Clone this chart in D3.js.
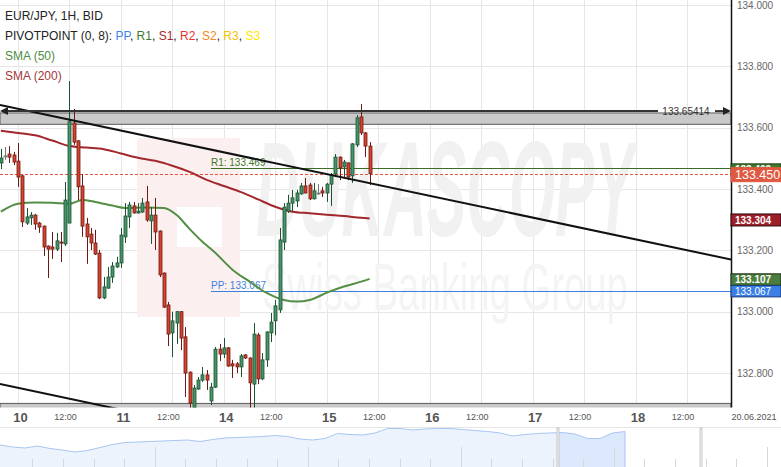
<!DOCTYPE html>
<html><head><meta charset="utf-8">
<script src="https://cdn.jsdelivr.net/npm/d3@7"></script>
<style>
body{margin:0;background:#fff;}
svg{display:block;font-family:"Liberation Sans",Arial,sans-serif;}
</style>
</head><body>
<svg id="c" width="781" height="467"></svg>
<script>
// ---------- DATA ----------
const title = "EUR/JPY, 1H, BID";
const pivotNames = ["PP","R1","S1","R2","S2","R3","S3"];
const pivotColors = ["#3d86e6","#3d7a2b","#a8262c","#e8332f","#f08a24","#f2c200","#ffe600"];
const candleHours = d3.range(-4, 83);
const opens = [133.485,133.508,133.514,133.511,133.491,133.443,133.289,133.306,133.315,133.289,133.279,133.214,133.211,133.204,133.227,133.221,133.289,133.615,133.557,133.410,133.286,133.253,133.224,133.191,133.045,133.077,133.113,133.146,133.159,133.244,133.309,133.345,133.322,133.325,133.358,133.296,133.315,133.263,133.126,133.022,132.931,132.963,133.000,132.918,132.803,132.680,132.748,132.777,132.794,132.709,132.754,132.878,132.862,132.882,132.830,132.830,132.820,132.859,132.849,132.764,132.924,132.781,132.843,132.931,132.970,133.006,133.227,133.328,133.354,133.361,133.384,133.410,133.413,133.368,133.387,133.394,133.387,133.416,133.449,133.504,133.472,133.485,133.443,133.544,133.635,133.583,133.540];
const highs = [133.531,133.537,133.540,133.521,133.550,133.446,133.338,133.325,133.319,133.293,133.281,133.216,133.260,133.257,133.260,133.423,133.752,133.661,133.560,133.449,133.306,133.273,133.267,133.201,133.113,133.146,133.162,133.179,133.273,133.354,133.358,133.358,133.354,133.371,133.410,133.341,133.371,133.265,133.128,133.032,133.000,133.002,133.002,132.950,132.805,132.761,132.787,132.820,132.810,132.768,132.885,132.895,132.914,132.885,132.843,132.836,132.862,132.862,132.851,132.963,132.931,132.865,132.936,132.996,133.038,133.273,133.354,133.381,133.397,133.397,133.420,133.436,133.420,133.420,133.416,133.407,133.420,133.452,133.514,133.506,133.495,133.487,133.550,133.641,133.677,133.586,133.553];
const lows = [133.465,133.495,133.485,133.478,133.407,133.276,133.283,133.283,133.267,133.257,133.182,133.110,133.172,133.198,133.162,133.214,133.289,133.544,133.364,133.244,133.156,133.201,133.185,133.041,133.041,133.074,133.094,133.143,133.143,133.224,133.273,133.320,133.320,133.322,133.293,133.221,133.201,133.113,133.012,132.888,132.852,132.895,132.875,132.722,132.680,132.680,132.745,132.771,132.745,132.696,132.751,132.839,132.849,132.820,132.784,132.800,132.787,132.846,132.680,132.680,132.764,132.777,132.820,132.901,132.923,132.996,133.201,133.322,133.328,133.341,133.381,133.386,133.364,133.366,133.381,133.374,133.358,133.345,133.439,133.429,133.439,133.429,133.420,133.537,133.576,133.504,133.413];
const closes = [133.501,133.508,133.504,133.488,133.439,133.293,133.309,133.315,133.286,133.276,133.211,133.204,133.204,133.231,133.224,133.364,133.619,133.553,133.407,133.279,133.244,133.224,133.188,133.045,133.081,133.113,133.149,133.159,133.250,133.312,133.348,133.322,133.328,133.354,133.299,133.315,133.260,133.120,133.015,132.927,132.970,133.000,132.914,132.800,132.702,132.751,132.777,132.794,132.777,132.754,132.878,132.862,132.882,132.823,132.823,132.820,132.856,132.849,132.768,132.927,132.781,132.843,132.934,132.966,133.019,133.234,133.341,133.354,133.371,133.387,133.410,133.387,133.368,133.394,133.387,133.387,133.416,133.446,133.504,133.469,133.488,133.439,133.547,133.632,133.583,133.540,133.450];

const sma50Hours = [-4,0,4,8,12,15,18,22,25,30,34,37,40,43,46,50,54,58,62,65,68,72,76,80,82];
const sma50Values = [133.326,133.352,133.356,133.355,133.352,133.364,133.358,133.346,133.338,133.340,133.338,133.315,133.270,133.228,133.192,133.137,133.098,133.061,133.038,133.033,133.038,133.062,133.082,133.098,133.107];
const sma200Hours = [-4,0,4,8,12,16,20,24,28,32,36,40,44,48,52,56,60,64,68,72,76,80,82];
const sma200Values = [133.590,133.583,133.575,133.558,133.540,133.535,133.530,133.516,133.502,133.492,133.476,133.456,133.430,133.410,133.390,133.366,133.342,133.326,133.321,133.316,133.312,133.306,133.304];

const currentPrice = 133.450;
const pivotStartHour = 45;
const pivotR1 = 133.469;
const pivotPP = 133.067;
const resistanceLevel = 133.65414;
const resistanceZone = [133.611, 133.648];
const supportZone = [132.60, 132.701];
const upperTrend = [[-4.2, 133.674], [166.3, 133.170]];
const lowerTrend = [[-4.2, 132.764], [166.3, 132.260]];

const priceTicks = [132.8, 133.0, 133.2, 133.4, 133.6, 133.8, 134.0];
const timeTicks = d3.range(0, 157, 12);
const dayLabels = ["10","11","14","15","16","17","18"];
const endDateLabel = "20.06.2021";

const navValues = [22,20,19,21,18.5,17,15,16.5,19.5,22.5,24.5,25,25.5,26,26.5,27,25.5,27.5,29,29.5,30,30.5,31.5,30.5,28,27,28.5,33.5,32.5,32,34,38.5,38.5,37,38,38.5,38.5,37.5,36.5,35.5,34,31,32.5,33.5,34,34.5,33,28.5,28.5,34,35.5];

// ---------- SCALES ----------
const PR = 731, PB = 407.5;
const x = d3.scaleLinear().domain([-4.197, 166.26]).range([0, PR]);
const y = d3.scaleLinear().domain([133, 134]).range([311.7, 5]);

const svg = d3.select("#c");
const defs = svg.append("defs");
defs.append("clipPath").attr("id","pc").append("rect").attr("x",0).attr("y",0).attr("width",PR).attr("height",PB);

svg.append("rect").attr("width",781).attr("height",467).attr("fill","#fff");

const g = svg.append("g").attr("clip-path","url(#pc)");

// grid
g.append("g").selectAll("line").data(timeTicks).join("line")
  .attr("x1",d=>Math.round(x(d))+0.5).attr("x2",d=>Math.round(x(d))+0.5)
  .attr("y1",0).attr("y2",PB).attr("stroke","#e6e6e6");
g.append("g").selectAll("line").data(priceTicks).join("line")
  .attr("y1",d=>Math.round(y(d))+0.5).attr("y2",d=>Math.round(y(d))+0.5)
  .attr("x1",0).attr("x2",PR).attr("stroke","#e6e6e6");

// watermark
const wm = g.append("g");
const pink = "#fcefef";
[[137,138,40,179],[177,138,63,69],[177,247,63,70],[222,207,18,40]].forEach(r=>{
  wm.append("rect").attr("x",r[0]).attr("y",r[1]).attr("width",r[2]).attr("height",r[3]).attr("fill",pink);
});
function squeezed(txt, x0, y0, fs, targetW, attrs){
  const t = wm.append("text").attr("font-size",fs).text(txt);
  Object.entries(attrs).forEach(([k,v])=>t.attr(k,v));
  const w = t.node().getComputedTextLength();
  t.attr("transform",`translate(${x0},${y0}) scale(${targetW/w},1)`);
}
squeezed("DUKASCOPY",256,236,136,378,{"font-weight":"bold","font-style":"italic","fill":"#f1f1f1"});
squeezed("Swiss Banking Group",262,310,66,366,{"fill":"#f4f4f4"});

// zones
g.append("rect").attr("x",0).attr("width",PR)
  .attr("y",y(resistanceZone[1])).attr("height",y(resistanceZone[0])-y(resistanceZone[1]))
  .attr("fill","#c9c9c9").attr("stroke","#5a5a5a").attr("stroke-width",1);
g.append("rect").attr("x",0).attr("width",PR)
  .attr("y",y(supportZone[1])).attr("height",y(supportZone[0])-y(supportZone[1]))
  .attr("fill","#c9c9c9").attr("stroke","#5a5a5a").attr("stroke-width",1);

// pivot lines
const ry = Math.round(y(pivotR1))+0.5, py = Math.round(y(pivotPP))+0.5;
g.append("line").attr("x1",x(pivotStartHour)).attr("x2",PR).attr("y1",ry).attr("y2",ry).attr("stroke","#3b6e22");
g.append("line").attr("x1",x(pivotStartHour)).attr("x2",PR).attr("y1",py).attr("y2",py).attr("stroke","#3d7fe0");
g.append("text").attr("x",x(pivotStartHour)).attr("y",ry-3).attr("font-size",10).attr("fill","#3d7a2b").text("R1: "+pivotR1.toFixed(3));
g.append("text").attr("x",x(pivotStartHour)).attr("y",py-2.5).attr("font-size",10).attr("fill","#3d7fe0").text("PP: "+pivotPP.toFixed(3));

// current price dashed line
const cy = Math.round(y(currentPrice))+0.5;
g.append("line").attr("x1",0).attr("x2",PR).attr("y1",cy).attr("y2",cy)
  .attr("stroke","#e8553e").attr("stroke-dasharray","3,2");

// SMAs
const lineGen = d3.line().x(d=>x(d[0])).y(d=>y(d[1])).curve(d3.curveMonotoneX);
g.append("path").attr("d",lineGen(sma200Hours.map((h,i)=>[h,sma200Values[i]])))
  .attr("fill","none").attr("stroke","#a3282d").attr("stroke-width",2);
g.append("path").attr("d",lineGen(sma50Hours.map((h,i)=>[h,sma50Values[i]])))
  .attr("fill","none").attr("stroke","#528f45").attr("stroke-width",2);

// candles
const candles = candleHours.map((h,i)=>({h,o:opens[i],hi:highs[i],lo:lows[i],c:closes[i]}));
const cg = g.append("g");
candles.forEach(d=>{
  const up = d.c>d.o, dn = d.c<d.o;
  const fill = up?"#46956a":dn?"#d4432f":"#9a9a9a";
  const edge = up?"#1d5231":dn?"#6e1a12":"#777";
  const cx = Math.round(x(d.h))+0.5;
  cg.append("line").attr("x1",cx).attr("x2",cx).attr("y1",y(d.hi)).attr("y2",y(d.lo)).attr("stroke",edge);
  const top = Math.min(y(d.o),y(d.c)), hgt = Math.max(1,Math.abs(y(d.o)-y(d.c)));
  cg.append("rect").attr("x",cx-1.5).attr("y",top).attr("width",3).attr("height",hgt)
    .attr("fill",fill).attr("stroke",edge).attr("stroke-width",0.8);
});

// trendlines
[upperTrend, lowerTrend].forEach(t=>{
  g.append("line").attr("x1",x(t[0][0])).attr("y1",y(t[0][1])).attr("x2",x(t[1][0])).attr("y2",y(t[1][1]))
    .attr("stroke","#111").attr("stroke-width",2);
});

// resistance level arrow line with label
const ly = y(resistanceLevel);
g.append("line").attr("x1",4).attr("x2",658).attr("y1",ly).attr("y2",ly).attr("stroke","#333").attr("stroke-width",2);
g.append("line").attr("x1",715).attr("x2",725).attr("y1",ly).attr("y2",ly).attr("stroke","#333").attr("stroke-width",2);
g.append("path").attr("d",`M0,${ly} L8,${ly-4} L8,${ly+4}Z`).attr("fill","#222");
g.append("path").attr("d",`M731,${ly} L723,${ly-4} L723,${ly+4}Z`).attr("fill","#222");
g.append("text").attr("x",686).attr("y",ly+3.5).attr("text-anchor","middle").attr("font-size",10)
  .attr("fill","#333").text(resistanceLevel.toFixed(5));

// right axis
svg.append("line").attr("x1",PR+0.5).attr("x2",PR+0.5).attr("y1",0).attr("y2",PB).attr("stroke","#111").attr("stroke-width",1.5);
const yAxis = d3.axisRight(y).tickValues(priceTicks).tickSize(0).tickPadding(6).tickFormat(d=>d.toFixed(3));
const ya = svg.append("g").attr("transform",`translate(${PR},0)`).call(yAxis);
ya.select(".domain").remove();
ya.selectAll("text").attr("font-size",10).attr("fill","#666").attr("font-family","Liberation Sans, Arial, sans-serif");

// right labels
function box(v, dyPx, h, fill, stroke, fs, bold){
  const c = y(v) + dyPx;
  const bg = svg.append("g");
  bg.append("rect").attr("x",PR).attr("y",c-h/2).attr("width",781-PR).attr("height",h)
    .attr("fill",fill).attr("stroke",stroke).attr("stroke-width",1);
  bg.append("text").attr("x",PR+4).attr("y",c+fs*0.36).attr("font-size",fs)
    .attr("font-weight",bold?"bold":"normal").attr("fill","#fff").text(v.toFixed(3));
}
box(pivotR1, 2, 12, "#3f7a2c", "#1d3d12", 10, true);
box(currentPrice, 1, 14, "#e0583f", "#e0583f", 12.5, false);
box(sma200Values[sma200Values.length-1], 1.5, 12, "#9c1f2a", "#2a0a0a", 10, true);
box(sma50Values[sma50Values.length-1], 0.7, 11.5, "#4b7d3c", "#1a2a12", 10, true);
box(pivotPP, 0, 11.5, "#3a7fe4", "#1a3a7a", 10, false);

// x axis labels
const xAxis = d3.axisBottom(x).tickValues(timeTicks).tickSize(0).tickPadding(0)
  .tickFormat(d=> d%24===0 ? dayLabels[d/24] : "12:00");
const xa = svg.append("g").attr("transform",`translate(0,${PB})`).call(xAxis);
xa.select(".domain").remove();
xa.selectAll("text").each(function(d){
  const s = d3.select(this).attr("font-family","Liberation Sans, Arial, sans-serif");
  if(d%24===0){ s.attr("font-size",13).attr("font-weight","bold").attr("fill","#555").attr("dy",0).attr("y",14).attr("dx",2); }
  else { s.attr("font-size",9).attr("fill","#555").attr("dy",0).attr("y",12.5).attr("dx",-4.5); }
});
svg.append("text").attr("x",754).attr("y",420).attr("text-anchor","middle").attr("font-size",9).attr("fill","#555").text(endDateLabel);

// legend
const lg = svg.append("g").attr("font-size",12);
lg.append("text").attr("x",5).attr("y",19.5).attr("fill","#222").text(title);
const pt = lg.append("text").attr("x",5).attr("y",39.5).attr("fill","#222");
pt.append("tspan").text("PIVOTPOINT (0, 8): ");
pivotNames.forEach((n,i)=>{
  pt.append("tspan").attr("fill",pivotColors[i]).text(n);
  if(i<pivotNames.length-1) pt.append("tspan").attr("fill","#222").text(", ");
});
lg.append("text").attr("x",5).attr("y",60).attr("fill","#4f8c45").text("SMA (50)");
lg.append("text").attr("x",5).attr("y",80).attr("fill","#a3383a").text("SMA (200)");

// navigator
const navTop = 427, navBot = 467;
svg.append("line").attr("x1",0).attr("x2",781).attr("y1",navTop+0.5).attr("y2",navTop+0.5).attr("stroke","#e6e6e6");
const nx = d3.scaleLinear().domain([0, navValues.length-1]).range([0, 625]);
const ny = d3.scaleLinear().domain([0, 40]).range([navBot, navTop]);
const navArea = d3.area().x((d,i)=>nx(i)).y0(navBot).y1(d=>ny(d));
const navLine = d3.line().x((d,i)=>nx(i)).y(d=>ny(d));
defs.append("clipPath").attr("id","selc").append("rect").attr("x",558).attr("y",navTop).attr("width",70).attr("height",40);
svg.append("path").attr("d",navArea(navValues)).attr("fill","#edf3fd");
svg.append("path").attr("d",navArea(navValues)).attr("fill","#dce8fb").attr("clip-path","url(#selc)");
svg.append("path").attr("d",navLine(navValues)).attr("fill","none").attr("stroke","#a8c6f3");
svg.append("line").attr("x1",625).attr("x2",625).attr("y1",ny(navValues[navValues.length-1])).attr("y2",navBot).attr("stroke","#a8c6f3");
// navigator ticks
d3.range(0,25).forEach(i=>{
  const tx = Math.round(32.3 + i*30.6)+0.5;
  const tall = (i%5===4);
  svg.append("line").attr("x1",tx).attr("x2",tx).attr("y1",tall?447:459).attr("y2",navBot).attr("stroke","#d8d8d8");
});
// separators
[557,700].forEach(sx=>{
  svg.append("rect").attr("x",sx).attr("y",navTop+1).attr("width",2).attr("height",navBot-navTop).attr("fill","#f2f2f2").attr("stroke","#bdbdbd").attr("stroke-width",0.8);
});
</script>
</body></html>
